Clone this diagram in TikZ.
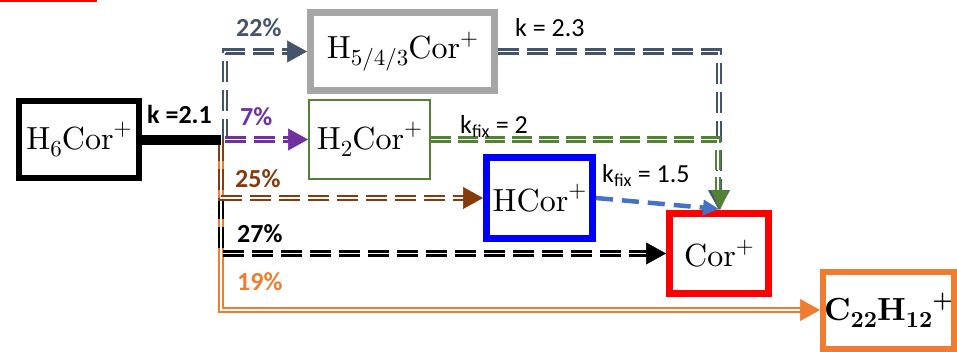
\documentclass[tikz,border=0pt]{standalone}
\usepackage{fontspec}
\newfontfamily\cali{Carlito}
\newfontfamily\lmten[Extension=.otf, BoldFont=lmroman10-bold]{lmroman10-regular}
\newcommand\mysub[1]{\raisebox{-0.22em}{\fontsize{23}{26}\selectfont #1}}
\newcommand\mysup[1]{\raisebox{0.42em}{\fontsize{23}{26}\selectfont #1}}
\usetikzlibrary{arrows.meta}
\definecolor{slate}{HTML}{44546A}
\definecolor{purp}{HTML}{7030A0}
\definecolor{brownc}{HTML}{843C0C}
\definecolor{orangec}{HTML}{ED7D31}
\definecolor{greenc}{HTML}{548235}
\definecolor{bluel}{HTML}{4472C4}
\definecolor{grayb}{HTML}{A6A6A6}
\begin{document}
\begin{tikzpicture}[x=1pt,y=-1pt,
  box/.style={draw, inner sep=0pt, align=center, font=\lmten\fontsize{32}{38}\selectfont},
  lab/.style={inner sep=0pt, anchor=base west, font=\cali\fontsize{26}{30}\selectfont},
  blab/.style={inner sep=0pt, anchor=base west, font=\cali\bfseries\fontsize{26}{30}\selectfont},
  dline/.style={double=white, line width=2.4pt, double distance=1.8pt, dash pattern=on 21pt off 8pt},
  oline/.style={double=white, line width=2pt, double distance=2.5pt, draw=orangec},
  tipA/.style={-{Triangle[length=20pt,width=22pt]}, line width=0.5pt, solid},
]
\useasboundingbox (0,0) rectangle (957,351);
\draw[red, line width=2.5pt] (0,1) -- (97,1);

\node[box, line width=6pt, minimum width=120pt, minimum height=77pt] (h6) at (79,139.5) {H\mysub{6}Cor\mysup{+}};
\node[box, draw=grayb, line width=7pt, minimum width=184pt, minimum height=78pt] (h5) at (402.5,51.5) {H\mysub{5/4/3}Cor\mysup{+}};
\node[box, draw=greenc, line width=2pt, minimum width=121pt, minimum height=79pt] (h2) at (369.5,139.5) {H\mysub{2}Cor\mysup{+}};
\node[box, draw=blue, line width=7pt, minimum width=106pt, minimum height=81pt] (hc) at (539.5,198) {HCor\mysup{+}};
\node[box, draw=red, line width=7pt, minimum width=99pt, minimum height=80pt] (cor) at (719,253.5) {Cor\mysup{+}};
\node[box, draw=orangec, line width=6pt, minimum width=131pt, minimum height=77pt] (c22) at (888.5,310) {\bfseries C\mysub{\bfseries 22}H\mysub{\bfseries 12}\mysup{+}};

\coordinate (J) at (221,139.5);
\coordinate (Js) at (225,139.5);

% branches from junction
\draw[oline] (J) |- ([xshift=-18pt]c22.west);
\draw[tipA, orangec] ([xshift=-19pt]c22.west) -- (c22.west);
\draw[dline, black] (J) |- ([xshift=-18pt]cor.west);
\draw[tipA, black] ([xshift=-19pt]cor.west) -- (cor.west);
\draw[dline, brownc] (J) |- ([xshift=-18pt]hc.west);
\draw[tipA, brownc] ([xshift=-19pt]hc.west) -- (hc.west);
\draw[dline, slate] (Js) |- ([xshift=-18pt]h5.west);
\draw[tipA, slate] ([xshift=-19pt]h5.west) -- (h5.west);
\draw[dline, purp, line width=2.6pt, double distance=1.2pt] (Js) -- ([xshift=-18pt]h2.west);
\draw[tipA, purp] ([xshift=-19pt]h2.west) -- (h2.west);
\draw[black, line width=10pt] (h6.east |- J) -- (J);

% to Cor+
\draw[dline, slate] (h5.east) -| ([yshift=18pt]cor.north);
\draw[dline, greenc, dash pattern=on 20pt off 7pt] (h2.east) -| ([xshift=-1pt,yshift=18pt]cor.north);
\draw[tipA, slate] ([yshift=19pt]cor.north) -- (cor.north);
\draw[tipA, greenc, -{Triangle[length=20pt,width=18pt]}] ([xshift=1pt,yshift=19pt]cor.north) -- ([xshift=1pt]cor.north);
\draw[bluel, line width=4.5pt, dash pattern=on 17pt off 9pt, -{Triangle[length=16pt,width=15pt]}] (hc.east) -- ([yshift=1pt]cor.north);

% labels
\node[blab] (l21) at (147,123) {k =2.1};
\node[blab, text=slate] (l22) at (236,36) {22\%};
\node[blab, text=purp] (l7) at (240,125) {7\%};
\node[blab, text=brownc] (l25) at (235,187) {25\%};
\node[blab] (l27) at (237,242) {27\%};
\node[blab, text=orangec] (l19) at (237,290) {19\%};
\node[lab] (l23) at (515,36) {k = 2.3};
\node[lab] (lf2) at (460,133) {k\textsubscript{fix} = 2};
\node[lab] (lf15) at (602,182) {k\textsubscript{fix} = 1.5};
\end{tikzpicture}
\end{document}
